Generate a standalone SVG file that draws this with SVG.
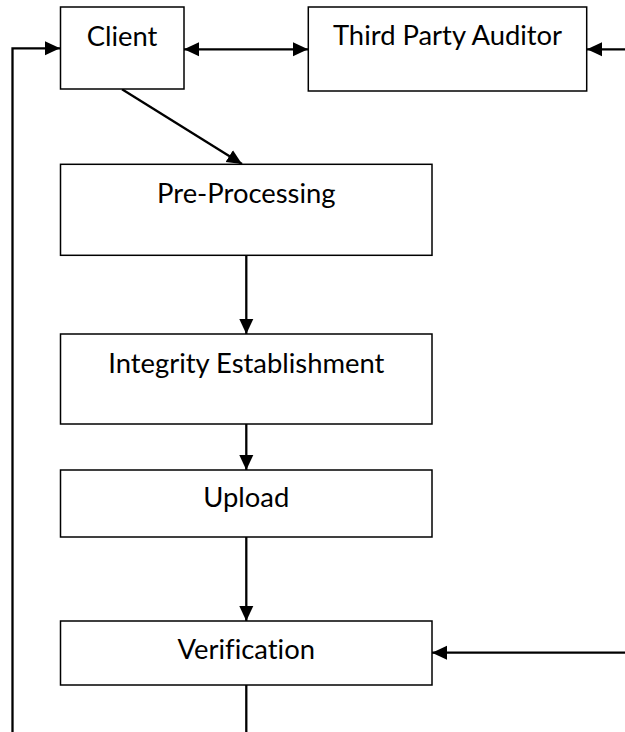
<svg xmlns="http://www.w3.org/2000/svg" width="625" height="732" viewBox="0 0 625 732">
<style>
.box{fill:#fff;stroke:#000;stroke-width:1.5}
.lbl{font-family:Lato,"Open Sans","Liberation Sans",sans-serif;font-size:27.4px;fill:#000;text-anchor:middle;font-variant-ligatures:none}
.con{fill:none;stroke:#000;stroke-width:2.3}
.arr{marker-end:url(#ah)}
</style>
<defs>
<marker id="ah" markerUnits="userSpaceOnUse" markerWidth="16" markerHeight="15" refX="15" refY="7" orient="auto-start-reverse" viewBox="0 0 16 14">
<path d="M0,0 L15,7 L0,14 z" fill="#000"/>
</marker>
</defs>
<rect width="625" height="732" fill="#fff"/>
<g id="connectors">
<path class="con arr" d="M12.5,732 V48.3 H60"/>
<path class="con arr" d="M184,49.3 H308" marker-start="url(#ah)"/>
<path class="con arr" d="M625,49.3 H587"/>
<path class="con arr" d="M122,89.3 L242,164"/>
<path class="con arr" d="M246.3,255 V334"/>
<path class="con arr" d="M246.3,424 V470"/>
<path class="con arr" d="M246.3,537 V621"/>
<path class="con" d="M246.3,685 V732"/>
<path class="con arr" d="M625,652.7 H432"/>
</g>
<g id="client"><rect class="box" x="60.5" y="7" width="123.5" height="82"/><text class="lbl" x="122" y="46">Client</text></g>
<g id="tpa"><rect class="box" x="308.3" y="7" width="278.4" height="84"/><text class="lbl" x="447.5" y="45">Third Party Auditor</text></g>
<g id="preprocessing"><rect class="box" x="60.5" y="164.3" width="371.5" height="91"/><text class="lbl" x="246.3" y="203">Pre-Processing</text></g>
<g id="integrity"><rect class="box" x="60.5" y="334" width="371.5" height="90"/><text class="lbl" x="246.3" y="373">Integrity Establishment</text></g>
<g id="upload"><rect class="box" x="60.5" y="470" width="371.5" height="67"/><text class="lbl" x="246.3" y="507">Upload</text></g>
<g id="verification"><rect class="box" x="60.5" y="621" width="371.5" height="64"/><text class="lbl" x="246.3" y="659">Verification</text></g>
</svg>
